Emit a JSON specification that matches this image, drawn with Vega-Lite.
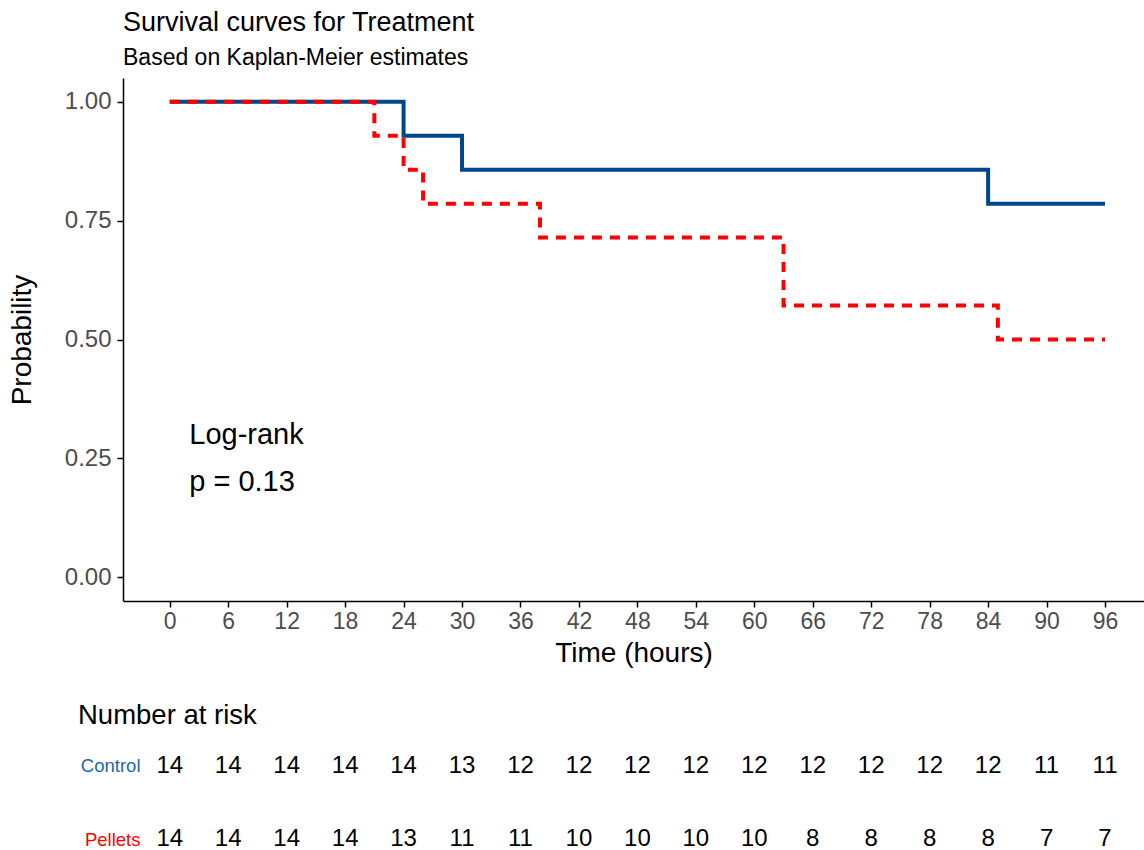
{
  "$schema": "https://vega.github.io/schema/vega-lite/v6.json",
  "padding": {"left": 8, "top": 9, "right": 0, "bottom": 0},
  "config": {
    "font": "Liberation Sans",
    "view": {"stroke": null},
    "axis": {"grid": false, "domainColor": "#000000", "tickColor": "#000000", "labelColor": "#4D4D4D", "titleColor": "#000000", "titleFontWeight": "normal", "domainWidth": 1.5, "tickWidth": 1.5},
    "title": {"fontWeight": "normal", "color": "#000000", "subtitleColor": "#000000"},
    "concat": {"spacing": 35}
  },
  "datasets": {
    "km": [
      {"group": "Control", "time": 0, "surv": 1},
      {"group": "Control", "time": 24, "surv": 0.9286},
      {"group": "Control", "time": 30, "surv": 0.8571},
      {"group": "Control", "time": 84, "surv": 0.7857},
      {"group": "Control", "time": 96, "surv": 0.7857},
      {"group": "Pellets", "time": 0, "surv": 1},
      {"group": "Pellets", "time": 21, "surv": 0.9286},
      {"group": "Pellets", "time": 24, "surv": 0.8571},
      {"group": "Pellets", "time": 26, "surv": 0.7857},
      {"group": "Pellets", "time": 38, "surv": 0.7143},
      {"group": "Pellets", "time": 63, "surv": 0.5714},
      {"group": "Pellets", "time": 85, "surv": 0.5},
      {"group": "Pellets", "time": 96, "surv": 0.5}
    ],
    "ann": [
      {"time": 2, "surv": 0.28, "label": "Log-rank"},
      {"time": 2, "surv": 0.181, "label": "p = 0.13"}
    ],
    "risk": [
      {"group": "Control", "time": 0, "n": 14},
      {"group": "Control", "time": 6, "n": 14},
      {"group": "Control", "time": 12, "n": 14},
      {"group": "Control", "time": 18, "n": 14},
      {"group": "Control", "time": 24, "n": 14},
      {"group": "Control", "time": 30, "n": 13},
      {"group": "Control", "time": 36, "n": 12},
      {"group": "Control", "time": 42, "n": 12},
      {"group": "Control", "time": 48, "n": 12},
      {"group": "Control", "time": 54, "n": 12},
      {"group": "Control", "time": 60, "n": 12},
      {"group": "Control", "time": 66, "n": 12},
      {"group": "Control", "time": 72, "n": 12},
      {"group": "Control", "time": 78, "n": 12},
      {"group": "Control", "time": 84, "n": 12},
      {"group": "Control", "time": 90, "n": 11},
      {"group": "Control", "time": 96, "n": 11},
      {"group": "Pellets", "time": 0, "n": 14},
      {"group": "Pellets", "time": 6, "n": 14},
      {"group": "Pellets", "time": 12, "n": 14},
      {"group": "Pellets", "time": 18, "n": 14},
      {"group": "Pellets", "time": 24, "n": 13},
      {"group": "Pellets", "time": 30, "n": 11},
      {"group": "Pellets", "time": 36, "n": 11},
      {"group": "Pellets", "time": 42, "n": 10},
      {"group": "Pellets", "time": 48, "n": 10},
      {"group": "Pellets", "time": 54, "n": 10},
      {"group": "Pellets", "time": 60, "n": 10},
      {"group": "Pellets", "time": 66, "n": 8},
      {"group": "Pellets", "time": 72, "n": 8},
      {"group": "Pellets", "time": 78, "n": 8},
      {"group": "Pellets", "time": 84, "n": 8},
      {"group": "Pellets", "time": 90, "n": 7},
      {"group": "Pellets", "time": 96, "n": 7}
    ]
  },
  "vconcat": [
    {
      "width": 1021,
      "height": 523,
      "title": {"text": "Survival curves for Treatment", "subtitle": "Based on Kaplan-Meier estimates", "anchor": "start", "frame": "group", "fontSize": 27, "subtitleFontSize": 23, "offset": 7, "subtitlePadding": 10},
      "encoding": {
        "x": {"field": "time", "type": "quantitative", "scale": {"domain": [-4.8, 100], "nice": false, "zero": false},
          "axis": {"values": [0, 6, 12, 18, 24, 30, 36, 42, 48, 54, 60, 66, 72, 78, 84, 90, 96], "title": "Time (hours)", "labelFontSize": 23, "titleFontSize": 28, "tickSize": 6, "labelPadding": 3, "titlePadding": 6}},
        "y": {"field": "surv", "type": "quantitative", "scale": {"domain": [-0.05, 1.05], "nice": false, "zero": false},
          "axis": {"values": [0, 0.25, 0.5, 0.75, 1], "format": ".2f", "title": "Probability", "labelFontSize": 24, "titleFontSize": 28, "tickSize": 6, "labelPadding": 6, "titlePadding": 28}}
      },
      "layer": [
        {"data": {"name": "km"}, "transform": [{"filter": "datum.group == 'Control'"}],
         "mark": {"type": "line", "interpolate": "step-after", "color": "#00468B", "strokeWidth": 4}},
        {"data": {"name": "km"}, "transform": [{"filter": "datum.group == 'Pellets'"}],
         "mark": {"type": "line", "interpolate": "step-after", "color": "#FF0000", "strokeWidth": 4, "strokeDash": [10, 8], "strokeCap": "butt"}},
        {"data": {"name": "ann"},
         "mark": {"type": "text", "align": "left", "baseline": "alphabetic", "fontSize": 29, "color": "#000000"},
         "encoding": {"text": {"field": "label", "type": "nominal"}}}
      ]
    },
    {
      "width": 1021,
      "height": 97,
      "title": {"text": "Number at risk", "anchor": "start", "frame": "group", "dx": -45, "fontSize": 27.5, "offset": 24},
      "data": {"name": "risk"},
      "mark": {"type": "text", "fontSize": 24, "color": "#000000", "baseline": "middle"},
      "encoding": {
        "x": {"field": "time", "type": "quantitative", "scale": {"domain": [-4.8, 100], "nice": false, "zero": false}, "axis": null},
        "y": {"field": "group", "type": "nominal", "sort": ["Control", "Pellets"], "scale": {"type": "point", "padding": 0.164},
          "axis": {"title": null, "domain": false, "ticks": false, "labelPadding": -17, "labelFontSize": 18.5, "labelColor": {"expr": "datum.value == 'Control' ? '#2166AC' : '#FF0000'"}}},
        "text": {"field": "n", "type": "quantitative"}
      }
    }
  ]
}
